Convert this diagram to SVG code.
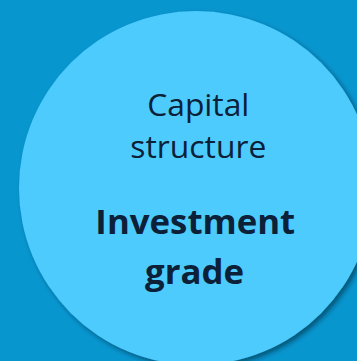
<svg xmlns="http://www.w3.org/2000/svg" width="357" height="361" viewBox="0 0 357 361">
  <defs>
    <filter id="shadow" x="-20%" y="-20%" width="140%" height="140%">
      <feDropShadow dx="3" dy="3" stdDeviation="2.5" flood-color="#002030" flood-opacity="0.55"/>
    </filter>
    <style>
      .bg { fill: #0896CF; }
      .circle { fill: #4DCBFD; filter: url(#shadow); }
      .t { font-family: "Open Sans", "Noto Sans", "Liberation Sans", sans-serif; fill: #0C2038; text-anchor: middle; }
      .reg { font-size: 31.8px; font-weight: 400; }
      .bold { font-size: 34.8px; font-weight: 700; }
    </style>
  </defs>
  <rect class="bg" x="0" y="0" width="357" height="361"/>
  <g id="connectors"/>
  <g id="node-capital-structure">
    <circle class="circle" cx="196" cy="188" r="177"/>
    <text class="t reg" x="198.3" y="115.7">Capital</text>
    <text class="t reg" x="198.3" y="158.3">structure</text>
    <text class="t bold" x="195.3" y="234.3">Investment</text>
    <text class="t bold" x="194.5" y="283.5">grade</text>
  </g>
</svg>
